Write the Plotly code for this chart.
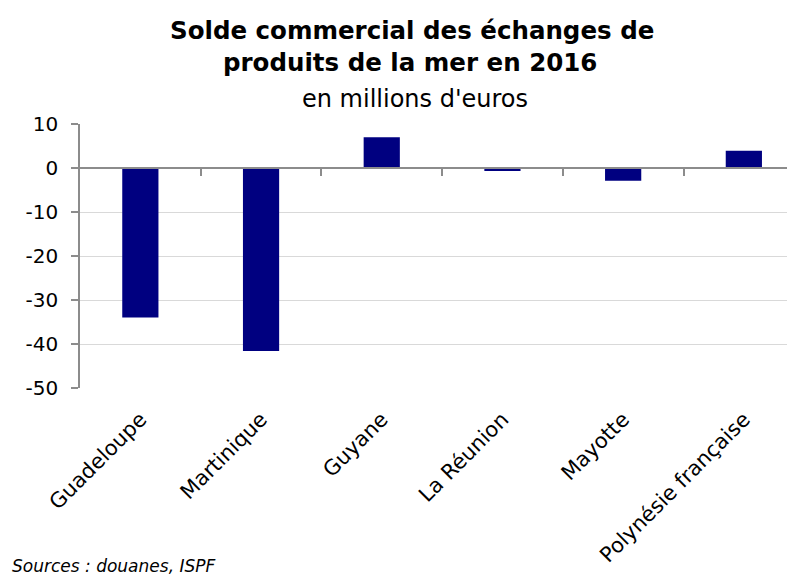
import plotly.graph_objects as go

categories = ["Guadeloupe", "Martinique", "Guyane", "La Réunion", "Mayotte", "Polynésie française"]
values = [-34.0, -41.6, 7.0, -0.7, -2.9, 3.9]
y_ticks = [10, 0, -10, -20, -30, -40, -50]
y_ticklabels = ["10", "0", "-10", "-20", "-30", "-40", "-50"]

OFF = 8  # page body margin of the browser
W, H = 795 - OFF, 578 - OFF
L, T, B = 80 - OFF, 123.5 - OFF, 388.3 - OFF
plot_h = B - T
plot_w = W - L
cat_w = 120.7
x_hi = -0.5 + plot_w / cat_w
y_lo, y_hi = min(y_ticks), max(y_ticks)

font = "DejaVu Sans"
xs = list(range(len(categories)))

fig = go.Figure()
fig.add_trace(go.Bar(
    x=xs, y=values, width=0.3,
    marker=dict(color="#000080", line=dict(width=0)),
    xaxis="x", yaxis="y", showlegend=False, hoverinfo="skip",
))
boundaries = [i + 0.5 for i in range(len(categories) - 1)]
fig.add_trace(go.Scatter(
    x=boundaries, y=[0] * len(boundaries), mode="markers",
    marker=dict(opacity=0), xaxis="x2", yaxis="y", showlegend=False, hoverinfo="skip",
))

def py(pix):
    return (B - (pix - OFF)) / plot_h

def px(pix):
    return ((pix - OFF) - L) / plot_w

fig.update_layout(
    width=W, height=H,
    margin=dict(l=L, r=0, t=T, b=H - B, pad=0),
    paper_bgcolor="white", plot_bgcolor="white",
    font=dict(family=font, size=18, color="#000000"),
    xaxis=dict(
        range=[-0.5, x_hi], tickmode="array", tickvals=xs, ticktext=categories,
        tickangle=-45, showgrid=False, zeroline=False, showline=False, ticks="",
        tickfont=dict(family=font, size=21), ticklabelstandoff=14,
    ),
    xaxis2=dict(
        overlaying="x", anchor="free", position=(0 - y_lo) / (y_hi - y_lo),
        range=[-0.5, x_hi], tickmode="array", tickvals=boundaries,
        showticklabels=False, ticks="outside", ticklen=7, tickcolor="#8c8c8c", tickwidth=1.5,
        showline=True, linecolor="#8c8c8c", linewidth=1.5, showgrid=False, zeroline=False,
    ),
    yaxis=dict(
        range=[y_lo, y_hi], tickmode="array", tickvals=y_ticks, ticktext=y_ticklabels,
        showgrid=True, gridcolor="#d9d9d9", gridwidth=1,
        zeroline=False, showline=True, linecolor="#8c8c8c", linewidth=1.5,
        ticks="outside", ticklen=7, tickcolor="#8c8c8c", tickwidth=1.5,
        tickfont=dict(family=font, size=20), ticklabelstandoff=9,
    ),
    bargap=0.7,
)

fig.add_annotation(xref="paper", yref="paper", x=px(412), y=py(30),
                   text="<b>Solde commercial des échanges de</b>", showarrow=False,
                   font=dict(family=font, size=24.5), xanchor="center", yanchor="middle")
fig.add_annotation(xref="paper", yref="paper", x=px(410), y=py(62),
                   text="<b>produits de la mer en 2016</b>", showarrow=False,
                   font=dict(family=font, size=24.5), xanchor="center", yanchor="middle")
fig.add_annotation(xref="paper", yref="paper", x=px(415), y=py(98),
                   text="en millions d'euros", showarrow=False,
                   font=dict(family=font, size=24), xanchor="center", yanchor="middle")
fig.add_annotation(xref="paper", yref="paper", x=px(10), y=py(567),
                   text="<i>Sources : douanes, ISPF</i>", showarrow=False,
                   font=dict(family=font, size=17), xanchor="left", yanchor="middle")

fig.write_html("out.html")
